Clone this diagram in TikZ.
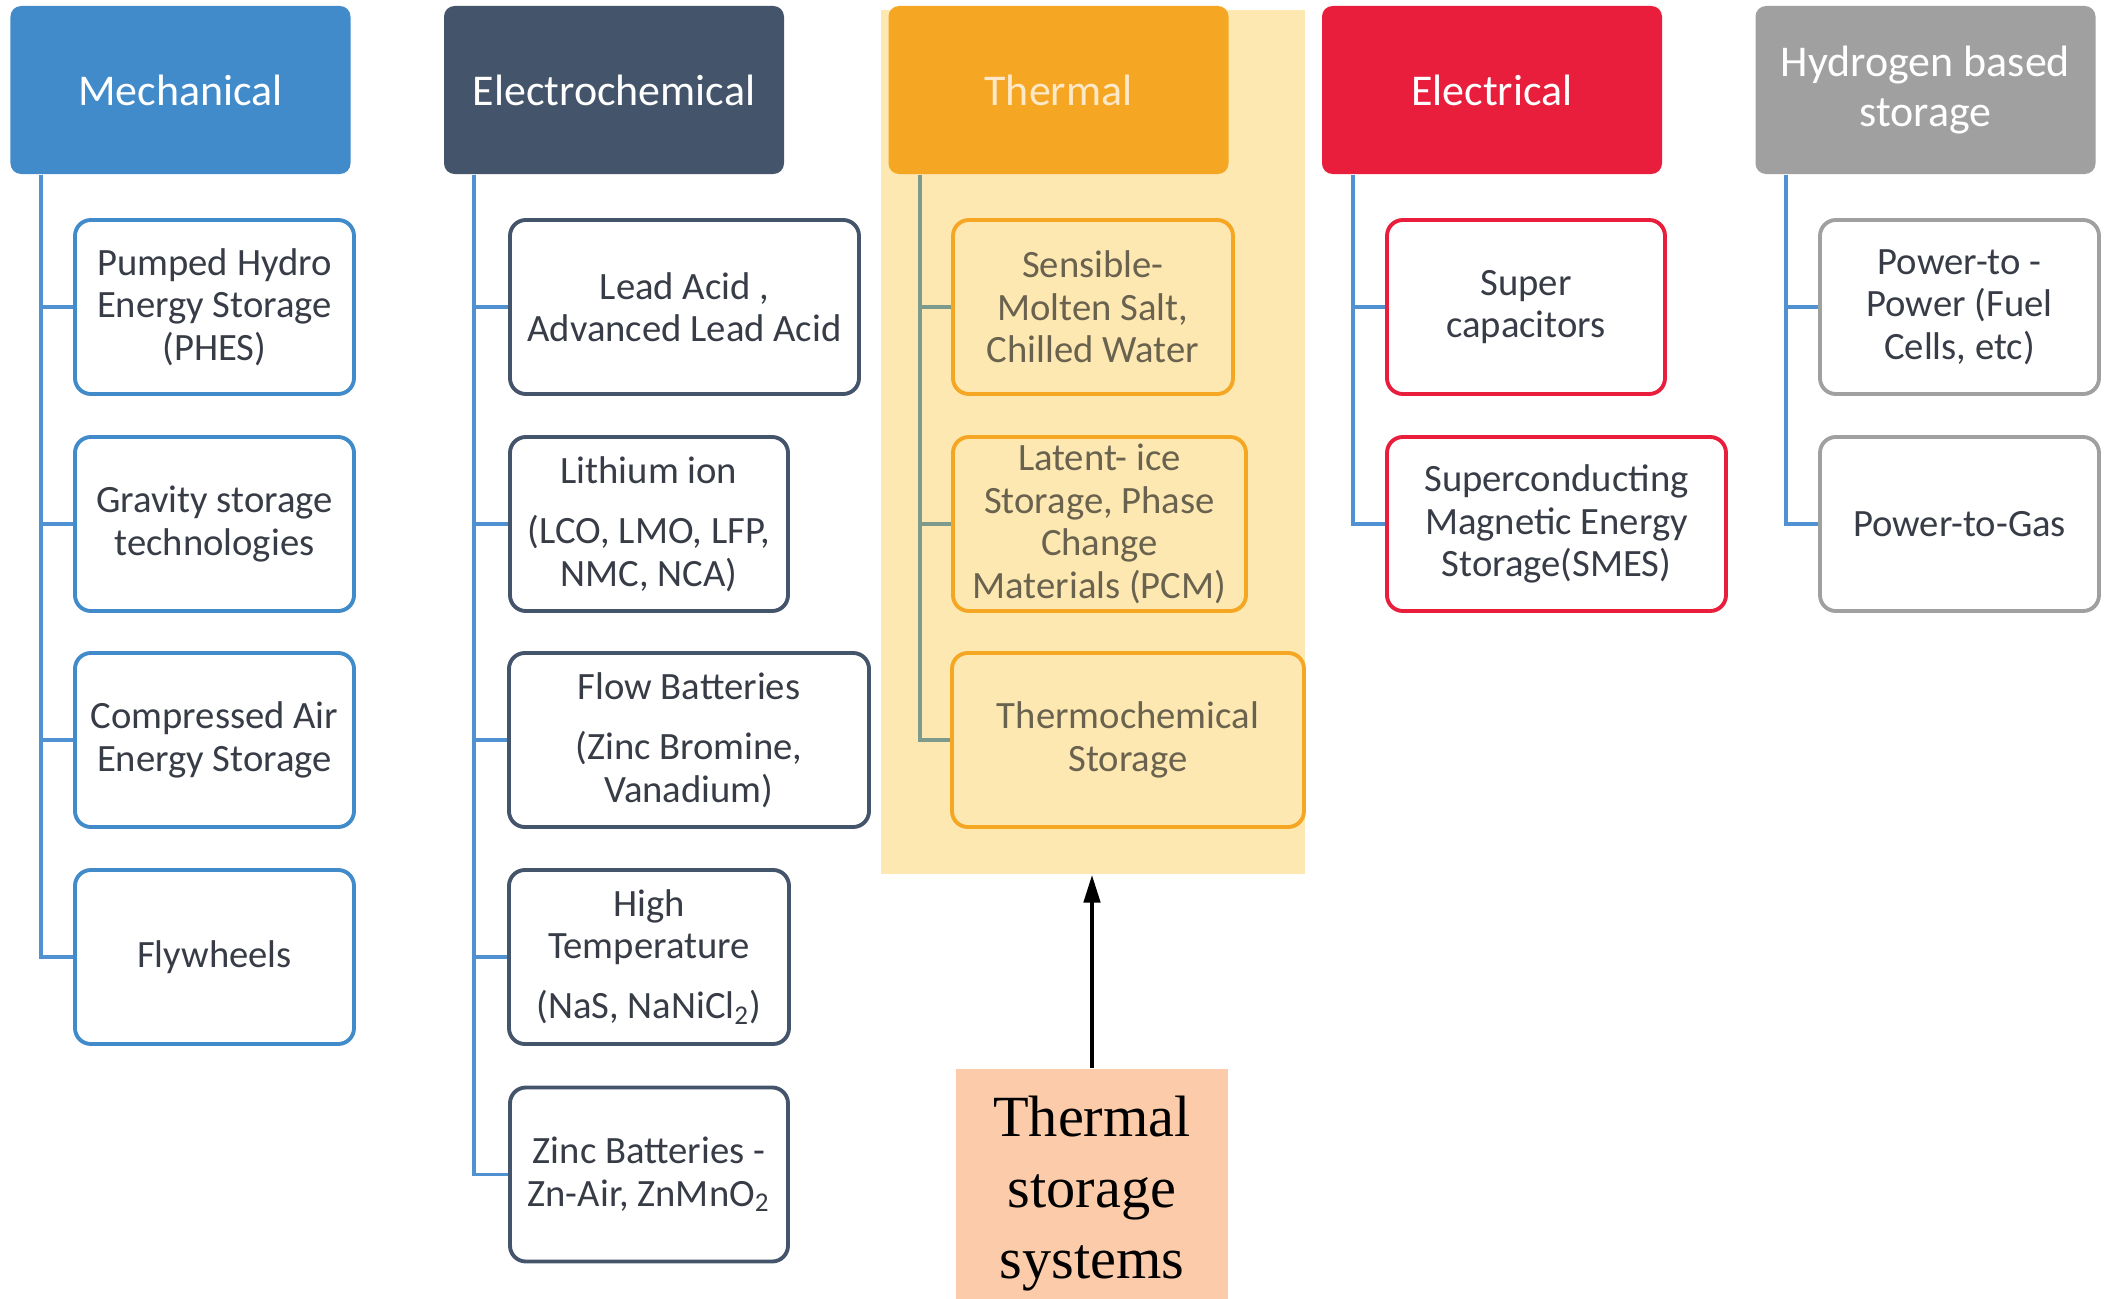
\documentclass[tikz,border=0pt]{standalone}
\usepackage{fontspec}
\setmainfont{Carlito}
\newfontfamily\serifbox{Liberation Serif}
\usetikzlibrary{arrows.meta}

\definecolor{mechblue}{RGB}{66,139,202}
\definecolor{echem}{RGB}{68,84,106}
\definecolor{thorange}{RGB}{245,166,35}
\definecolor{thtext}{RGB}{253,232,200}
\definecolor{elred}{RGB}{232,30,60}
\definecolor{hygray}{RGB}{160,160,160}
\definecolor{linkblue}{RGB}{80,145,210}
\definecolor{linkteal}{RGB}{125,155,140}
\definecolor{hlyellow}{RGB}{254,232,178}
\definecolor{peach}{RGB}{251,203,170}
\definecolor{bodytext}{RGB}{55,60,70}
\definecolor{thbody}{RGB}{105,98,78}

\begin{document}
\begin{tikzpicture}[
  head/.style={rounded corners=3pt, minimum width=3.4cm, minimum height=1.68cm,
    inner sep=2pt, align=center, text=white, font=\fontsize{12.5}{14.2}\selectfont},
  child/.style={draw, line width=1.1pt, rounded corners=4.5pt, fill=white,
    minimum height=1.74cm, inner sep=2pt, align=center, text=bodytext,
    font=\fontsize{11}{12.1}\selectfont},
  mchild/.style={child, draw=mechblue},
  echild/.style={child, draw=echem},
  tchild/.style={child, draw=thorange, fill=hlyellow, text=thbody},
  lchild/.style={child, draw=elred},
  hchild/.style={child, draw=hygray},
  link/.style={line width=1.1pt, draw=linkblue},
  tlink/.style={line width=1.1pt, draw=linkteal}
]
\useasboundingbox (0,0) rectangle (21.09,-12.99);

% highlighted thermal column
\node[fill=hlyellow, minimum width=4.24cm, minimum height=8.64cm, inner sep=0,
  anchor=north west] (hl) at (8.80,-0.09) {};

% category headers
\node[head, fill=mechblue] (mech) at (1.805,-0.90) {Mechanical};
\node[head, fill=echem] (echem) at (6.14,-0.90) {Electrochemical};
\node[head, fill=thorange, text=thtext] (therm) at (10.585,-0.90) {Thermal};
\node[head, fill=elred] (elec) at (14.92,-0.90) {Electrical};
\node[head, fill=hygray] (hyd) at (19.255,-0.90) {Hydrogen based\\storage};

% mechanical
\node[mchild, minimum width=2.79cm] (m1) at (2.145,-3.07) {Pumped Hydro\\Energy Storage\\(PHES)};
\node[mchild, minimum width=2.79cm] (m2) at (2.145,-5.24) {Gravity storage\\technologies};
\node[mchild, minimum width=2.79cm] (m3) at (2.145,-7.40) {Compressed Air\\Energy Storage};
\node[mchild, minimum width=2.79cm] (m4) at (2.145,-9.57) {Flywheels};

% electrochemical
\node[echild, minimum width=3.49cm] (e1) at (6.845,-3.07) {Lead Acid ,\\Advanced Lead Acid};
\node[echild, minimum width=2.78cm] (e2) at (6.49,-5.24) {Lithium ion\\[5pt](LCO, LMO, LFP,\\NMC, NCA)};
\node[echild, minimum width=3.60cm] (e3) at (6.89,-7.40) {Flow Batteries\\[5pt](Zinc Bromine,\\Vanadium)};
\node[echild, minimum width=2.80cm] (e4) at (6.49,-9.57) {High\\Temperature\\[5pt](NaS, NaNiCl\textsubscript{2})};
\node[echild, minimum width=2.78cm] (e5) at (6.49,-11.745) {Zinc Batteries -\\Zn-Air, ZnMnO\textsubscript{2}};

% thermal
\node[tchild, minimum width=2.80cm] (t1) at (10.93,-3.07) {Sensible-\\Molten Salt,\\Chilled Water};
\node[tchild, minimum width=2.93cm] (t2) at (10.995,-5.24) {Latent- ice\\Storage, Phase\\Change\\Materials (PCM)};
\node[tchild, minimum width=3.52cm] (t3) at (11.28,-7.40) {Thermochemical\\Storage};

% electrical
\node[lchild, minimum width=2.78cm] (l1) at (15.26,-3.07) {Super\\capacitors};
\node[lchild, minimum width=3.39cm] (l2) at (15.565,-5.24) {Superconducting\\Magnetic Energy\\Storage(SMES)};

% hydrogen
\node[hchild, minimum width=2.79cm] (h1) at (19.595,-3.07) {Power-to -\\Power (Fuel\\Cells, etc)};
\node[hchild, minimum width=2.79cm] (h2) at (19.595,-5.24) {Power-to-Gas};

% trunk starting points under each header
\coordinate (mT) at ([xshift=0.31cm]mech.south west);
\coordinate (eT) at ([xshift=0.31cm]echem.south west);
\coordinate (tT) at ([xshift=0.32cm]therm.south west);
\coordinate (lT) at ([xshift=0.32cm]elec.south west);
\coordinate (hT) at ([xshift=0.31cm]hyd.south west);

% tree connectors
\foreach \c in {m1,m2,m3,m4} \draw[link] (mT) |- (\c.west);
\foreach \c in {e1,e2,e3,e4,e5} \draw[link] (eT) |- (\c.west);
\foreach \c in {t1,t2,t3} \draw[tlink] (tT) |- (\c.west);
\foreach \c in {l1,l2} \draw[link] (lT) |- (\c.west);
\foreach \c in {h1,h2} \draw[link] (hT) |- (\c.west);

% callout (runs off the lower edge)
\node[fill=peach, minimum width=2.72cm, minimum height=2.49cm, inner sep=0,
  anchor=north, align=center, font=\serifbox\fontsize{16.6}{20.2}\selectfont]
  (tss) at (10.92,-10.68) {Thermal\\storage\\systems};
\draw[line width=1.4pt, -{Triangle[length=8pt,width=4.5pt]}] (tss.north) -- (tss.north |- hl.south);
\end{tikzpicture}
\end{document}
